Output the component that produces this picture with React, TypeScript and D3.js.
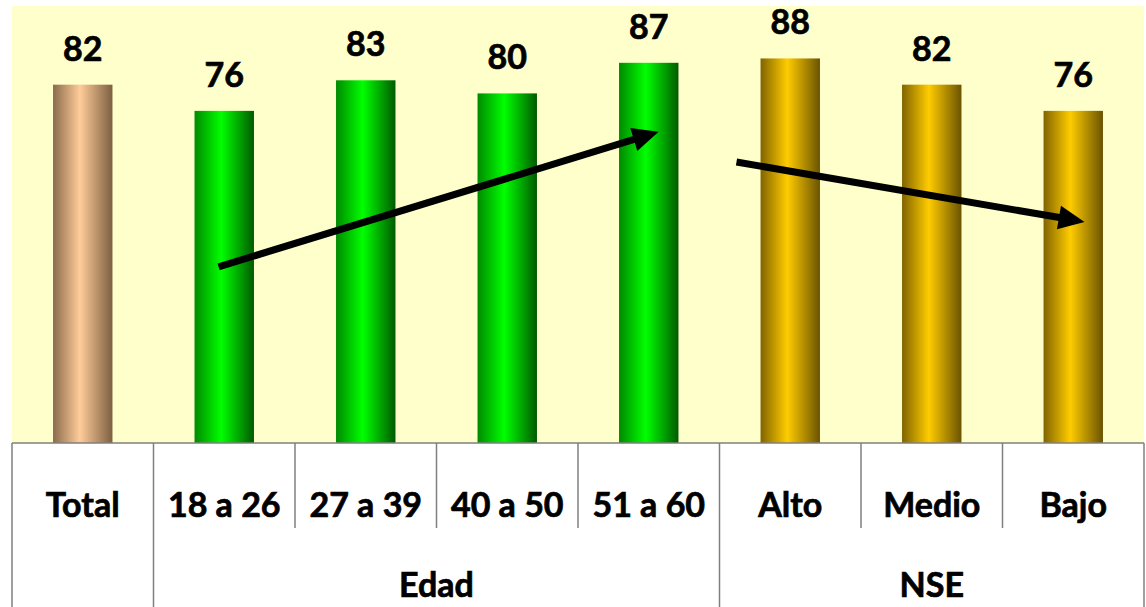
import React from "react";
import * as d3 from "d3";

const categories = ["Total", "18 a 26", "27 a 39", "40 a 50", "51 a 60", "Alto", "Medio", "Bajo"];
const values = [82, 76, 83, 80, 87, 88, 82, 76];
const colorGroups = ["total", "edad", "edad", "edad", "edad", "nse", "nse", "nse"];
const groups = [
  { name: "", from: "Total", to: "Total" },
  { name: "Edad", from: "18 a 26", to: "51 a 60" },
  { name: "NSE", from: "Alto", to: "Bajo" },
];
// trend arrows: [category, offset in band steps, value]
const arrowStarts = [["18 a 26", -0.04, 40.3], ["Alto", -0.38, 64.3]];
const arrowEnds = [["51 a 60", 0.07, 71.2], ["Bajo", 0.08, 50.6]];

const W = 1146;
const H = 607;
const left = 12;
const right = 1144;
const top = 6;
const bottom = 443;

const gradients: Record<string, [string, string, string]> = {
  total: ["#8a6b4c", "#ffcc99", "#7d5f42"],
  edad: ["#008a00", "#00ff00", "#005a00"],
  nse: ["#806400", "#ffcc00", "#6b5300"],
};

export default function App() {
  const cell = d3.scaleBand<string>().domain(categories).range([left, right]).padding(0);
  const x = d3.scaleBand<string>().domain(categories).range([left, right]).paddingInner(0.58).paddingOuter(0.29);
  const y = d3.scaleLinear().domain([0, 100]).range([bottom, top]);
  const step = cell.step();
  const font = "Lato, 'Open Sans', sans-serif";
  const textProps = {
    fontFamily: font,
    fontWeight: "bold" as const,
    fontSize: 34,
    fill: "#000",
    stroke: "#000",
    strokeWidth: 0.7,
    textAnchor: "middle" as const,
  };

  const px = (c: string, off: number) => (cell(c) as number) + step / 2 + off * step;

  const groupBounds = groups.map((g) => ({
    name: g.name,
    x0: cell(g.from) as number,
    x1: (cell(g.to) as number) + step,
  }));

  return (
    <div style={{ position: "absolute", left: 0, top: 0 }}>
      <svg width={W} height={H} style={{ display: "block", background: "#ffffff" }}>
        <defs>
          {Object.entries(gradients).map(([k, c]) => (
            <linearGradient key={k} id={"g-" + k} x1="0" x2="1" y1="0" y2="0">
              <stop offset="0%" stopColor={c[0]} />
              <stop offset="45%" stopColor={c[1]} />
              <stop offset="100%" stopColor={c[2]} />
            </linearGradient>
          ))}
        </defs>
        <rect x={left} y={top} width={right - left} height={bottom - top} fill="#ffffcc" />
        {categories.map((c, i) => (
          <g key={c}>
            <rect
              x={x(c)}
              y={y(values[i])}
              width={x.bandwidth()}
              height={bottom - y(values[i])}
              fill={`url(#g-${colorGroups[i]})`}
            />
            <text x={(x(c) as number) + x.bandwidth() / 2} y={y(values[i]) - 24} {...textProps}>
              {values[i]}
            </text>
            <text x={(cell(c) as number) + step / 2} y={517} {...textProps}>
              {c}
            </text>
          </g>
        ))}
        {arrowStarts.map((s, i) => {
          const e = arrowEnds[i];
          const x1 = px(s[0] as string, s[1] as number);
          const y1 = y(s[2] as number);
          const x2 = px(e[0] as string, e[1] as number);
          const y2 = y(e[2] as number);
          const ang = Math.atan2(y2 - y1, x2 - x1);
          const hl = 26;
          const hw = 12;
          const bx = x2 - hl * Math.cos(ang);
          const by = y2 - hl * Math.sin(ang);
          const nx = -Math.sin(ang);
          const ny = Math.cos(ang);
          return (
            <g key={i}>
              <line x1={x1} y1={y1} x2={bx + 2 * Math.cos(ang)} y2={by + 2 * Math.sin(ang)} stroke="#000" strokeWidth={7} />
              <path
                d={`M${x2},${y2} L${bx + nx * hw},${by + ny * hw} L${bx - nx * hw},${by - ny * hw} Z`}
                fill="#000"
              />
            </g>
          );
        })}
        <line x1={left} x2={right} y1={bottom} y2={bottom} stroke="#7f7f7f" strokeWidth={1.5} />
        {categories.map((c) => {
          const xx = cell(c) as number;
          const isGroupEdge = groupBounds.some((g) => Math.abs(g.x0 - xx) < 0.5);
          return (
            <line
              key={"v" + c}
              x1={xx}
              x2={xx}
              y1={bottom}
              y2={isGroupEdge ? H : 528}
              stroke="#7f7f7f"
              strokeWidth={1.5}
            />
          );
        })}
        <line x1={right} x2={right} y1={bottom} y2={H} stroke="#7f7f7f" strokeWidth={1.5} />
        {groupBounds.map((g) =>
          g.name ? (
            <text key={g.name} x={(g.x0 + g.x1) / 2} y={597} {...textProps}>
              {g.name}
            </text>
          ) : null
        )}
      </svg>
    </div>
  );
}
